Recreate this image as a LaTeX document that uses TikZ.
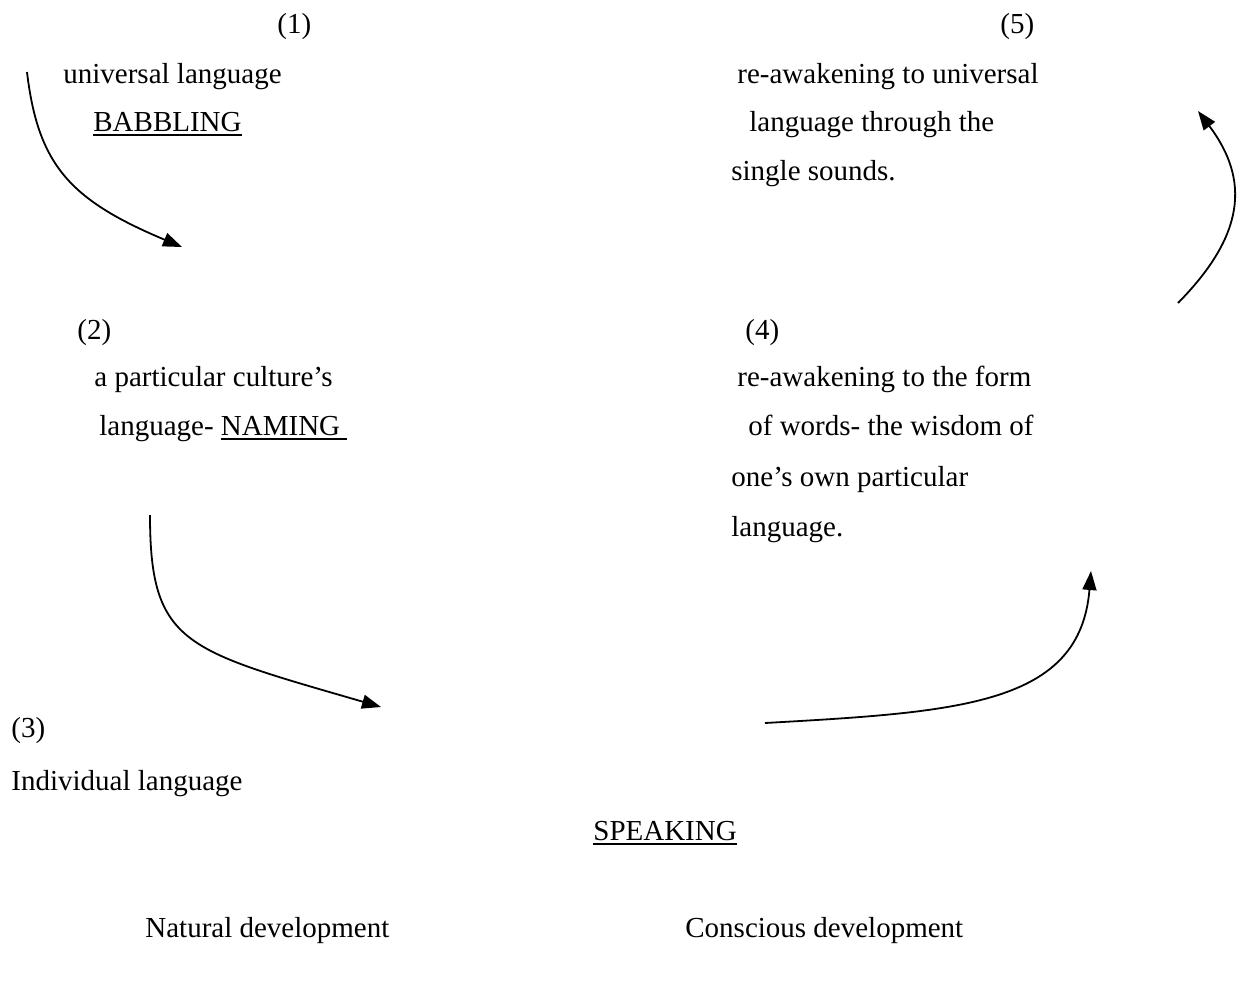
\documentclass[tikz,border=0pt]{standalone}
\usepackage{fontspec}
\setmainfont{Liberation Serif}
\usetikzlibrary{arrows.meta}
\newcommand\myul[1]{\setbox0\hbox{#1}\leavevmode\rlap{\rule[-2.3pt]{\wd0}{1pt}}\box0}
\tikzset{
  lbl/.style={anchor=base west, inner sep=0pt, font=\fontsize{14.5}{17}\selectfont},
  flow/.style={line width=0.9pt, -{Triangle[length=9.5pt,width=7pt]}}
}
\begin{document}
\begin{tikzpicture}[x=0.5pt,y=-0.5pt]
\useasboundingbox (0,0) rectangle (1239,998);
% left column
\node[lbl] (n1) at (277,33) {(1)};
\node[lbl] (u1) at (63,83) {universal language};
\node[lbl] (bab) at (93,131) {\myul{BABBLING}};
\node[lbl] (n2) at (77,339) {(2)};
\node[lbl] (c2) at (94,386) {a particular culture’s};
\node[lbl] (nam) at (99,435) {language- \myul{NAMING\ }};
\node[lbl] (n3) at (11,737) {(3)};
\node[lbl] (ind) at (11,790) {Individual language};
% right column
\node[lbl] (n5) at (1000,33) {(5)};
\node[lbl] (r1) at (737,83) {re-awakening to universal};
\node[lbl] (r2) at (749,131) {language through the};
\node[lbl] (r3) at (731,180) {single sounds.};
\node[lbl] (n4) at (745,339) {(4)};
\node[lbl] (f1) at (737,386) {re-awakening to the form};
\node[lbl] (f2) at (748,435) {of words- the wisdom of};
\node[lbl] (f3) at (731,486) {one’s own particular};
\node[lbl] (f4) at (731,536) {language.};
% bottom
\node[lbl] (spk) at (593,840) {\myul{SPEAKING}};
\node[lbl] (nat) at (145,937) {Natural development};
\node[lbl] (con) at (685,937) {Conscious development};
% arrows
\coordinate (a1s) at (27,72);
\coordinate (a1e) at (182,247);
\coordinate (a2s) at (150,515);
\coordinate (a2e) at (381,707);
\coordinate (a3s) at (765,723);
\coordinate (a3e) at (1091,571);
\coordinate (a4s) at (1178,303);
\coordinate (a4e) at (1198,111);
\draw[flow] (a1s) .. controls (38,165) and (70,200) .. (a1e);
\draw[flow] (a2s) .. controls (150,645) and (185,650) .. (a2e);
\draw[flow] (a3s) .. controls (960,712) and (1080,705) .. (a3e);
\draw[flow] (a4s) .. controls (1245,235) and (1250,180) .. (a4e);
\end{tikzpicture}
\end{document}
